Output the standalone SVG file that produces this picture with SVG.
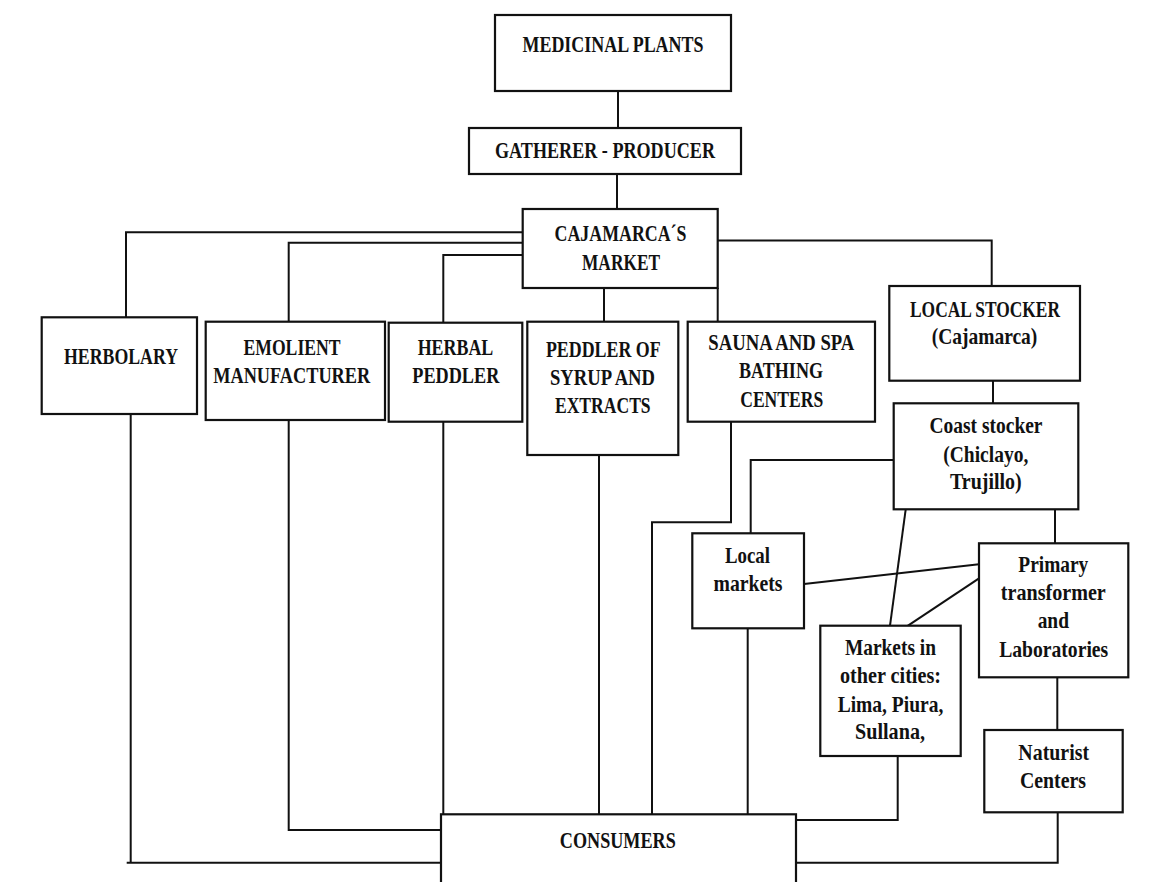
<svg xmlns="http://www.w3.org/2000/svg" width="1161" height="882" viewBox="0 0 1161 882">
<style>
rect.box{fill:#fff;stroke:#111;stroke-width:2.2}
.c{fill:none;stroke:#111;stroke-width:2}
text{font-family:"Liberation Serif","Times New Roman",serif;font-weight:bold;font-size:23px;fill:#111;text-anchor:middle}
</style>
<rect width="1161" height="882" fill="#fff"/>
<g id="connectors">
<line class="c" x1="618" y1="91" x2="618" y2="128"/>
<line class="c" x1="617" y1="174" x2="617" y2="209"/>
<polyline class="c" points="522.7,232.3 126,232.3 126,317.3"/>
<polyline class="c" points="522.7,242.7 288.7,242.7 288.7,321.7"/>
<polyline class="c" points="522.7,255 443.3,255 443.3,322.7"/>
<line class="c" x1="604" y1="288" x2="604" y2="321.7"/>
<line class="c" x1="717.7" y1="288" x2="717.7" y2="321.7"/>
<polyline class="c" points="717.7,240.5 991.7,240.5 991.7,286"/>
<line class="c" x1="993" y1="380.7" x2="993" y2="403.3"/>
<polyline class="c" points="893.7,460 750.7,460 750.7,533.3"/>
<line class="c" x1="905.7" y1="509.3" x2="890" y2="625.7"/>
<line class="c" x1="1055" y1="509.3" x2="1055" y2="543.3"/>
<line class="c" x1="804" y1="584" x2="979" y2="564.3"/>
<line class="c" x1="979" y1="578.3" x2="905" y2="627.7"/>
<line class="c" x1="1057.3" y1="677.3" x2="1057.3" y2="730"/>
<line class="c" x1="130.7" y1="414" x2="130.7" y2="862.7"/>
<line class="c" x1="126.7" y1="862.7" x2="441" y2="862.7"/>
<polyline class="c" points="288.7,420 288.7,830 441,830"/>
<line class="c" x1="443.3" y1="421.7" x2="443.3" y2="814.3"/>
<line class="c" x1="599" y1="455" x2="599" y2="814.3"/>
<polyline class="c" points="731,421.7 731,522.3 652,522.3 652,814.3"/>
<line class="c" x1="747.7" y1="628.3" x2="747.7" y2="814.3"/>
<polyline class="c" points="897.7,756 897.7,820 796,820"/>
<polyline class="c" points="1057.7,812.3 1057.7,862.7 796,862.7"/>
</g>
<g id="medicinal-plants">
<rect class="box" x="495" y="15" width="236" height="76"/>
<text x="613" y="52" textLength="181" lengthAdjust="spacingAndGlyphs">MEDICINAL PLANTS</text>
</g>
<g id="gatherer-producer">
<rect class="box" x="469" y="128" width="272" height="46"/>
<text x="605" y="158" textLength="220" lengthAdjust="spacingAndGlyphs">GATHERER - PRODUCER</text>
</g>
<g id="cajamarca-market">
<rect class="box" x="522.7" y="209" width="195" height="79"/>
<text x="620.5" y="240.7" textLength="132" lengthAdjust="spacingAndGlyphs">CAJAMARCA´S</text>
<text x="621" y="270" textLength="78" lengthAdjust="spacingAndGlyphs">MARKET</text>
</g>
<g id="herbolary">
<rect class="box" x="41.7" y="317.3" width="155.3" height="96.7"/>
<text x="121" y="364" textLength="114" lengthAdjust="spacingAndGlyphs">HERBOLARY</text>
</g>
<g id="emolient-manufacturer">
<rect class="box" x="205.7" y="321.7" width="179.3" height="98.3"/>
<text x="292" y="355" textLength="97" lengthAdjust="spacingAndGlyphs">EMOLIENT</text>
<text x="291.7" y="383" textLength="157" lengthAdjust="spacingAndGlyphs">MANUFACTURER</text>
</g>
<g id="herbal-peddler">
<rect class="box" x="388.7" y="322.7" width="133.6" height="99"/>
<text x="455.5" y="355" textLength="75.6" lengthAdjust="spacingAndGlyphs">HERBAL</text>
<text x="455.8" y="383" textLength="87" lengthAdjust="spacingAndGlyphs">PEDDLER</text>
</g>
<g id="peddler-syrup">
<rect class="box" x="527.3" y="321.7" width="151" height="133.3"/>
<text x="603.3" y="356.7" textLength="114.7" lengthAdjust="spacingAndGlyphs">PEDDLER OF</text>
<text x="602.5" y="385" textLength="105" lengthAdjust="spacingAndGlyphs">SYRUP AND</text>
<text x="602.8" y="413.3" textLength="95.7" lengthAdjust="spacingAndGlyphs">EXTRACTS</text>
</g>
<g id="sauna-spa">
<rect class="box" x="687.7" y="321.7" width="187.3" height="100"/>
<text x="781.3" y="350" textLength="146" lengthAdjust="spacingAndGlyphs">SAUNA AND SPA</text>
<text x="781" y="378" textLength="84" lengthAdjust="spacingAndGlyphs">BATHING</text>
<text x="781.7" y="406.7" textLength="83" lengthAdjust="spacingAndGlyphs">CENTERS</text>
</g>
<g id="local-stocker">
<rect class="box" x="889.3" y="286" width="190.7" height="94.7"/>
<text x="985" y="316.7" textLength="150" lengthAdjust="spacingAndGlyphs">LOCAL STOCKER</text>
<text x="984.5" y="344" textLength="105.7" lengthAdjust="spacingAndGlyphs">(Cajamarca)</text>
</g>
<g id="coast-stocker">
<rect class="box" x="893.7" y="403.3" width="184.6" height="106"/>
<text x="986" y="433.3" textLength="113" lengthAdjust="spacingAndGlyphs">Coast stocker</text>
<text x="985.8" y="461.7" textLength="85" lengthAdjust="spacingAndGlyphs">(Chiclayo,</text>
<text x="985.8" y="489.3" textLength="71.7" lengthAdjust="spacingAndGlyphs">Trujillo)</text>
</g>
<g id="local-markets">
<rect class="box" x="692.3" y="533.3" width="111.7" height="95"/>
<text x="747.5" y="563.3" textLength="45" lengthAdjust="spacingAndGlyphs">Local</text>
<text x="748" y="590.7" textLength="69" lengthAdjust="spacingAndGlyphs">markets</text>
</g>
<g id="primary-transformer">
<rect class="box" x="979" y="543.3" width="149.3" height="134"/>
<text x="1053.3" y="571.7" textLength="70" lengthAdjust="spacingAndGlyphs">Primary</text>
<text x="1053.3" y="600" textLength="105" lengthAdjust="spacingAndGlyphs">transformer</text>
<text x="1053.3" y="628.3" textLength="31.3" lengthAdjust="spacingAndGlyphs">and</text>
<text x="1053.7" y="656.7" textLength="109" lengthAdjust="spacingAndGlyphs">Laboratories</text>
</g>
<g id="markets-other-cities">
<rect class="box" x="820.3" y="625.7" width="140.4" height="130.3"/>
<text x="890.5" y="655" textLength="91" lengthAdjust="spacingAndGlyphs">Markets in</text>
<text x="890.5" y="683.3" textLength="101" lengthAdjust="spacingAndGlyphs">other cities:</text>
<text x="890.5" y="711.7" textLength="105.7" lengthAdjust="spacingAndGlyphs">Lima, Piura,</text>
<text x="890" y="739.3" textLength="70" lengthAdjust="spacingAndGlyphs">Sullana,</text>
</g>
<g id="naturist-centers">
<rect class="box" x="984.3" y="730" width="138.4" height="82.3"/>
<text x="1053.7" y="760" textLength="70.7" lengthAdjust="spacingAndGlyphs">Naturist</text>
<text x="1053" y="788.3" textLength="66" lengthAdjust="spacingAndGlyphs">Centers</text>
</g>
<g id="consumers">
<rect class="box" x="441" y="814.3" width="355" height="90"/>
<text x="617.8" y="848" textLength="116" lengthAdjust="spacingAndGlyphs">CONSUMERS</text>
</g>
</svg>
